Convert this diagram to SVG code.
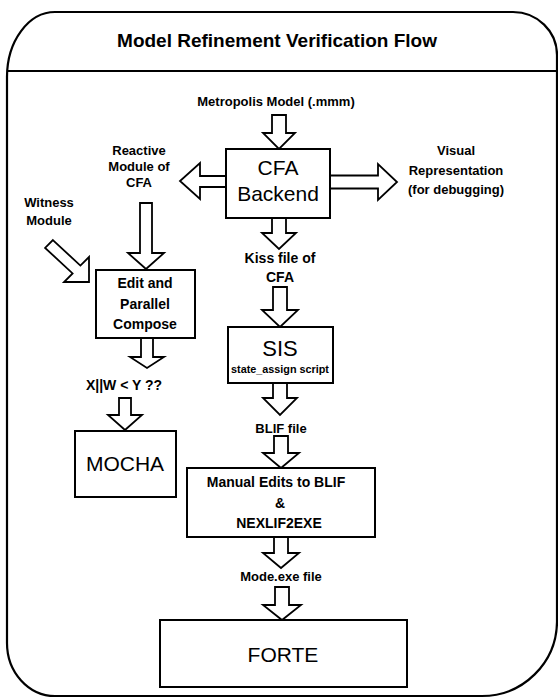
<svg xmlns="http://www.w3.org/2000/svg" width="558" height="698" viewBox="0 0 558 698">
<style>
.frame{fill:none;stroke:#000;stroke-width:2.2}
.box{fill:#fff;stroke:#000;stroke-width:2}
.arr{fill:#fff;stroke:#000;stroke-width:1.8;stroke-linejoin:miter}
.t{font-family:"Liberation Sans",Arial,sans-serif;fill:#000;text-anchor:middle}
.b{font-weight:bold}
.lbl{font-size:13px;font-weight:bold}
.big{font-size:21px}
</style>
<rect width="558" height="698" fill="#fff"/>
<g id="frame">
<path class="frame" d="M7,643 L7,77 A48,65 0 0 1 55,12 L513,12 A44,43 0 0 1 557,55 L557,622 A75,75 0 0 1 482,696 L55,696 A48,53 0 0 1 7,643 Z"/>
<line class="frame" x1="7" y1="71" x2="557" y2="71"/>
<text class="t b" x="277" y="47" font-size="19">Model Refinement Verification Flow</text>
</g>
<g id="connectors">
<polygon class="arr" points="272,115 286,115 286,133 295,133 279,149 263,133 272,133"/>
<polygon class="arr" points="272,218 286,218 286,233 296,233 279,249 262,233 272,233"/>
<polygon class="arr" points="273,287 287,287 287,310 298,310 280,327 262,310 273,310"/>
<polygon class="arr" points="273,383 287,383 287,398 297,398 280,415 263,398 273,398"/>
<polygon class="arr" points="274,436 288,436 288,453 299,453 281,468 263,453 274,453"/>
<polygon class="arr" points="274,537 288,537 288,553 299,553 281,568 263,553 274,553"/>
<polygon class="arr" points="275,587 289,587 289,605 301,605 282,620 263,605 275,605"/>
<polygon class="arr" points="140,203 152,203 152,253 164,253 146,269 128,253 140,253"/>
<polygon class="arr" points="141,338 153,338 153,357 164,357 147,368 130,357 141,357"/>
<polygon class="arr" points="119,398 131,398 131,415 142,415 125,430 108,415 119,415"/>
<polygon class="arr" points="226,176 200,176 200,163 180,181 200,199 200,187 226,187"/>
<polygon class="arr" points="330,175.5 378,175.5 378,164 397,182 378,200 378,188.5 330,188.5"/>
<polygon class="arr" points="52.9,240.1 80.4,265.6 89,257 89,282 64,282 72.6,273.4 45.1,247.9"/>
</g>
<g id="metropolis"><text class="t lbl" x="276" y="106">Metropolis Model (.mmm)</text></g>
<g id="cfa-backend">
<rect class="box" x="226" y="149" width="104" height="69"/>
<text class="t big" x="278" y="175">CFA</text>
<text class="t big" x="278" y="201">Backend</text>
</g>
<g id="reactive">
<text class="t lbl" x="139" y="155">Reactive</text>
<text class="t lbl" x="139" y="171">Module of</text>
<text class="t lbl" x="139" y="187">CFA</text>
</g>
<g id="visual">
<text class="t lbl" x="456" y="155">Visual</text>
<text class="t lbl" x="456" y="175">Representation</text>
<text class="t lbl" x="456" y="194">(for debugging)</text>
</g>
<g id="witness">
<text class="t lbl" x="49" y="207">Witness</text>
<text class="t lbl" x="49" y="225">Module</text>
</g>
<g id="edit-compose">
<rect class="box" x="96" y="270" width="99" height="68"/>
<text class="t b" x="145" y="288" font-size="14">Edit and</text>
<text class="t b" x="145" y="309" font-size="14">Parallel</text>
<text class="t b" x="145" y="329" font-size="14">Compose</text>
</g>
<g id="xw"><text class="t b" x="124" y="390" font-size="14">X||W &lt; Y ??</text></g>
<g id="mocha">
<rect class="box" x="75" y="431" width="101" height="66"/>
<text class="t big" x="125" y="471">MOCHA</text>
</g>
<g id="kiss">
<text class="t b" x="280" y="263" font-size="14">Kiss file of</text>
<text class="t b" x="280" y="282" font-size="14">CFA</text>
</g>
<g id="sis">
<rect class="box" x="228" y="327" width="105" height="56"/>
<text class="t" x="280" y="356" font-size="22">SIS</text>
<text class="t b" x="280" y="373" font-size="10.8">state_assign script</text>
</g>
<g id="blif"><text class="t lbl" x="281" y="433">BLIF file</text></g>
<g id="manual">
<rect class="box" x="187" y="468" width="188" height="69"/>
<text class="t b" x="276" y="487" font-size="14">Manual Edits to BLIF</text>
<text class="t b" x="280" y="508" font-size="14">&amp;</text>
<text class="t b" x="279" y="528" font-size="14">NEXLIF2EXE</text>
</g>
<g id="mode"><text class="t lbl" x="281" y="581">Mode.exe file</text></g>
<g id="forte">
<rect class="box" x="160" y="620" width="247" height="67"/>
<text class="t big" x="283" y="662">FORTE</text>
</g>
</svg>
